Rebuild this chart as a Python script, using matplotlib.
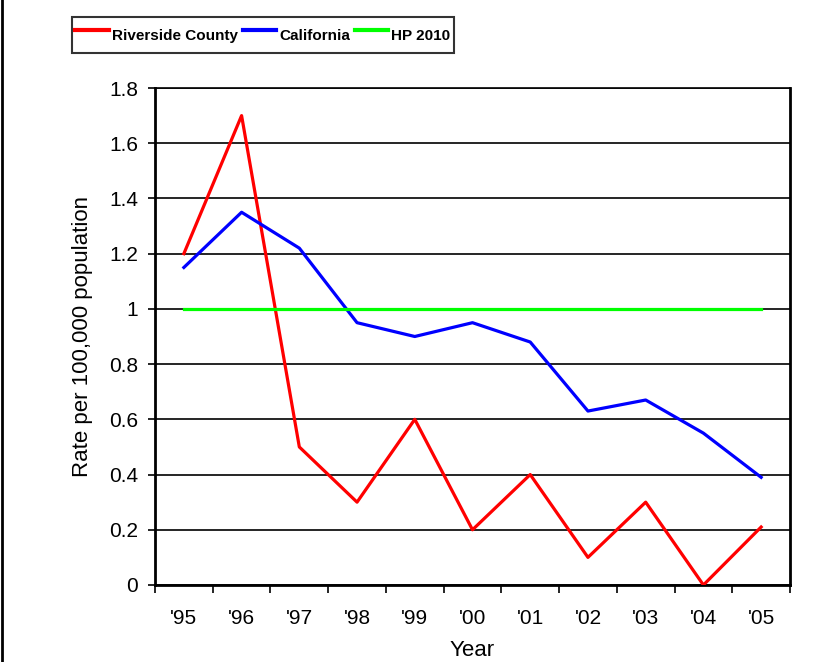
import matplotlib
matplotlib.use("Agg")
import matplotlib.pyplot as plt
from matplotlib.lines import Line2D

years = ["'95", "'96", "'97", "'98", "'99", "'00", "'01", "'02", "'03", "'04", "'05"]
riverside = [1.2, 1.7, 0.5, 0.3, 0.6, 0.2, 0.4, 0.1, 0.3, 0.0, 0.21]
california = [1.15, 1.35, 1.22, 0.95, 0.9, 0.95, 0.88, 0.63, 0.67, 0.55, 0.39]
hp2010 = [1, 1, 1, 1, 1, 1, 1, 1, 1, 1, 1]

plt.rcParams['font.family'] = ['Liberation Sans', 'DejaVu Sans']

fig = plt.figure(figsize=(8.17, 6.62), dpi=100)
ax = fig.add_axes([155 / 817, 1 - 585 / 662, 635 / 817, 497 / 662])

x = list(range(len(years)))
ax.plot(x, riverside, color="#ff0000", lw=2.3, label="Riverside County", zorder=3)
ax.plot(x, california, color="#0000ff", lw=2.3, label="California", zorder=3)
ax.plot(x, hp2010, color="#00ff00", lw=2.3, label="HP 2010", zorder=3)

ax.set_xlim(-0.5, len(years) - 0.5)
ax.set_ylim(0, 1.8)
ax.set_yticks([0, 0.2, 0.4, 0.6, 0.8, 1.0, 1.2, 1.4, 1.6, 1.8])
ax.set_yticklabels(["0", "0.2", "0.4", "0.6", "0.8", "1", "1.2", "1.4", "1.6", "1.8"])
ax.set_xticks(x)
ax.set_xticklabels(years)
ax.set_xticks([i - 0.5 for i in range(len(years) + 1)], minor=True)
ax.tick_params(axis="x", which="major", length=0, pad=17, labelsize=15)
ax.tick_params(axis="x", which="minor", length=6, width=1.2, direction="out")
ax.tick_params(axis="y", length=5, width=1.2, direction="out", labelsize=15, pad=7)

ax.grid(axis="y", color="black", lw=1.2, zorder=1)
for s in ["left", "bottom"]:
    ax.spines[s].set_linewidth(2)
ax.spines["right"].set_linewidth(2)
ax.spines["top"].set_linewidth(1.2)

ax.set_xlabel("Year", fontsize=16, labelpad=9)
ax.set_ylabel("Rate per 100,000 population", fontsize=16, labelpad=12)

leg = fig.legend(loc="center", bbox_to_anchor=(263 / 817, 1 - 35 / 662), ncol=3,
                 frameon=True, fancybox=False, edgecolor="black",
                 prop={"weight": "bold", "size": 11},
                 handlelength=2.2, handleheight=2.45, handletextpad=0.2,
                 columnspacing=0.3, borderpad=0.25, borderaxespad=0)
leg.get_frame().set_linewidth(1.5)
for h in leg.get_lines():
    h.set_linewidth(3)

fig.add_artist(Line2D([2 / 817, 2 / 817], [0, 1], color="black", lw=2))

fig.savefig("out.png", dpi=100)
